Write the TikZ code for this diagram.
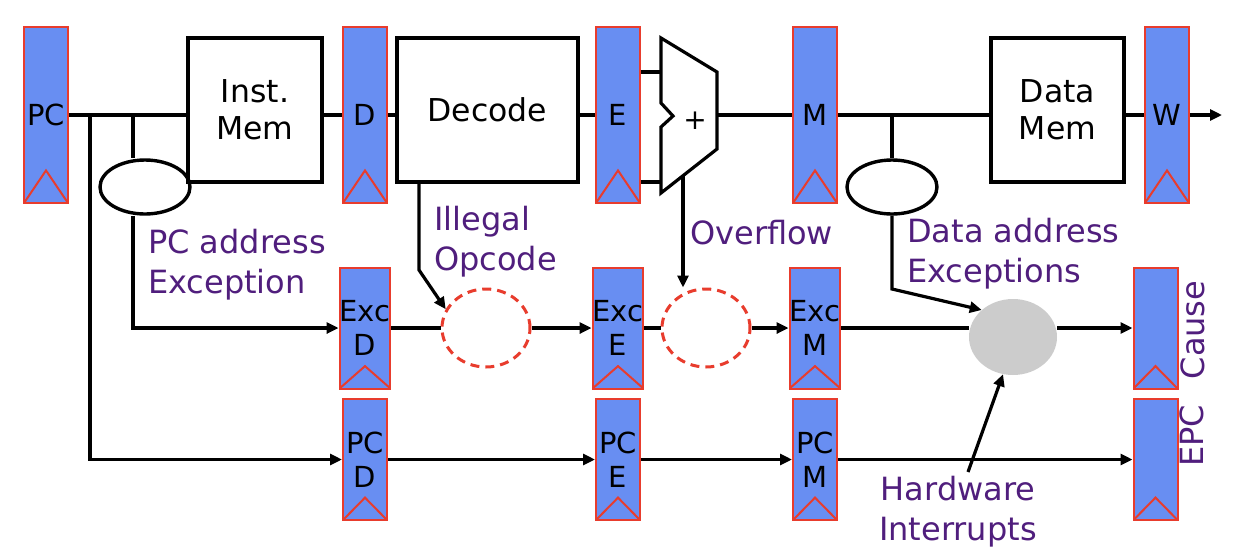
\documentclass[tikz,border=0pt]{standalone}
\usepackage{fontspec}
\setmainfont{DejaVu Sans}
\usetikzlibrary{arrows.meta,shapes.geometric,calc}
\definecolor{regblue}{RGB}{104,142,242}
\definecolor{regred}{RGB}{232,60,45}
\definecolor{labpurple}{RGB}{80,30,125}
\definecolor{mergegray}{RGB}{204,204,204}

\begin{document}
\begin{tikzpicture}[x=1pt,y=-1pt,
  reg/.style={draw=regred, line width=2pt, fill=regblue, minimum width=44pt,
    inner sep=0pt, align=center, font=\fontsize{29}{34}\selectfont,
    path picture={\draw[regred, line width=2pt]
      (path picture bounding box.south west)
      -- ($(path picture bounding box.south)!0.185!(path picture bounding box.north)$)
      -- (path picture bounding box.south east);}},
  tallreg/.style={reg, minimum height=176pt},
  shortreg/.style={reg, minimum height=121pt},
  unit/.style={draw, line width=3.4pt, fill=white, inner sep=0pt, align=center,
    minimum height=144pt, font=\fontsize{31.5}{37}\selectfont},
  oval/.style={ellipse, draw, line width=3.4pt, minimum width=90pt, minimum height=54pt, inner sep=0pt},
  chk/.style={ellipse, draw=regred, line width=3pt, dash pattern=on 9pt off 6pt,
    minimum width=88pt, minimum height=78pt, inner sep=0pt},
  merge/.style={ellipse, fill=mergegray, minimum width=88pt, minimum height=76pt, inner sep=0pt},
  wire/.style={line width=3.2pt},
  arr/.style={wire, -{Triangle[length=12pt,width=11pt]}},
  lab/.style={text=labpurple, font=\fontsize{32}{40}\selectfont, inner sep=0pt, align=left}
]
\useasboundingbox (0,0) rectangle (1240,550);
\fill[white] (0,0) rectangle (1240,550);

% pipeline registers
\node[tallreg] (pc) at (46,115) {PC};
\node[tallreg] (rD) at (365,115) {D};
\node[tallreg] (rE) at (618,115) {E};
\node[tallreg] (rM) at (815,115) {M};
\node[tallreg] (rW) at (1167,115) {W};

% exception-code registers
\node[shortreg] (excD) at (365,328) {Exc\\D};
\node[shortreg] (excE) at (618,328) {Exc\\E};
\node[shortreg] (excM) at (815,328) {Exc\\M};
\node[shortreg] (cause) at (1155.5,328) {};

% PC registers
\node[shortreg] (pcD) at (365,459.5) {PC\\D};
\node[shortreg] (pcE) at (618,459.5) {PC\\E};
\node[shortreg] (pcM) at (815,459.5) {PC\\M};
\node[shortreg] (epc) at (1155.5,459.5) {};

% functional units
\node[unit, minimum width=134pt] (imem) at (255,110) {Inst.\\Mem};
\node[unit, minimum width=181pt] (decode) at (487.5,110) {Decode};
\node[unit, minimum width=133pt] (dmem) at (1057.5,110) {Data\\Mem};

% adder
\draw[wire, fill=white, line join=miter]
  (661,38) -- (717,72) -- (717,149) -- (661,193) -- (661,127) -- (673,116) -- (661,103) -- cycle;
\node[font=\fontsize{28}{34}\selectfont, inner sep=0pt] (plus) at (695,121) {+};
\coordinate (addin1) at (661,72);
\coordinate (addin2) at (661,182);
\coordinate (addout) at (717,115);
\coordinate (addovf) at (683,176);

% exception detectors
\node[oval] (pcx) at (145,187) {};
\node[oval] (dx) at (892,187) {};
\node[chk] (ill) at (486,328) {};
\node[chk] (ovf) at (706,328) {};
\node[merge] (gray) at (1013,337) {};

% main datapath
\draw[wire] (pc.east) -- (pc.east -| imem.west);
\draw[wire] (imem.east |- rD.west) -- (rD.west);
\draw[wire] (rD.east) -- (rD.east -| decode.west);
\draw[wire] (decode.east |- rE.west) -- (rE.west);
\draw[wire] (rE.east |- addin1) -- (addin1);
\draw[wire] (rE.east |- addin2) -- (addin2);
\draw[wire] (addout) -- (addout -| rM.west);
\draw[wire] (rM.east) -- (rM.east -| dmem.west);
\draw[wire] (dmem.east |- rW.west) -- (rW.west);
\coordinate (wout) at (1222,115);
\draw[arr] (rW.east) -- (wout);

% PC taps
\coordinate (tapE) at (90,115);
\coordinate (tapX) at (133,115);
\draw[arr] (tapE) |- (pcD.west);
\draw[wire] (tapX) -- (tapX |- pcx.north);
\draw[arr] (tapX |- pcx.south) |- (excD.west);

% data address check
\draw[wire] (dx.north |- rM.east) -- (dx.north);
\coordinate (dbend) at (892,289);
\draw[arr] (dx.south) -- (dbend) -- (gray.north west);

% illegal opcode and overflow
\coordinate (ibend) at (419,270);
\draw[arr] (ibend |- decode.south) -- (ibend) -- (ill.155);
\draw[arr] (addovf) -- (addovf |- ovf.north);

% exception pipeline
\draw[wire] (excD.east) -- (ill.west);
\draw[arr] (ill.east) -- (excE.west);
\draw[wire] (excE.east) -- (ovf.west);
\draw[arr] (ovf.east) -- (excM.west);
\draw[wire] (excM.east) -- (excM.east -| gray.west);
\draw[arr] (cause.west -| gray.east) -- (cause.west);

% PC pipeline
\draw[arr] (pcD.east) -- (pcE.west);
\draw[arr] (pcE.east) -- (pcM.west);
\draw[arr] (pcM.east) -- (epc.west);

% interrupts
\coordinate (hwtail) at (968,472);
\draw[arr] (hwtail) -- (gray.255);

% labels
\node[lab, anchor=west] (lpc) at (148,265) {PC address\\Exception};
\node[lab, anchor=west] (lill) at (434,242) {Illegal\\Opcode};
\node[lab, anchor=west] (lovf) at (690,233) {Overflow};
\node[lab, anchor=west] (ldat) at (907,254) {Data address\\Exceptions};
\node[lab, align=center] (lhw) at (958,512) {Hardware\\Interrupts};
\node[lab, rotate=90] (lcause) at (1193,330) {Cause};
\node[lab, rotate=90] (lepc) at (1192,436) {EPC};
\end{tikzpicture}
\end{document}
